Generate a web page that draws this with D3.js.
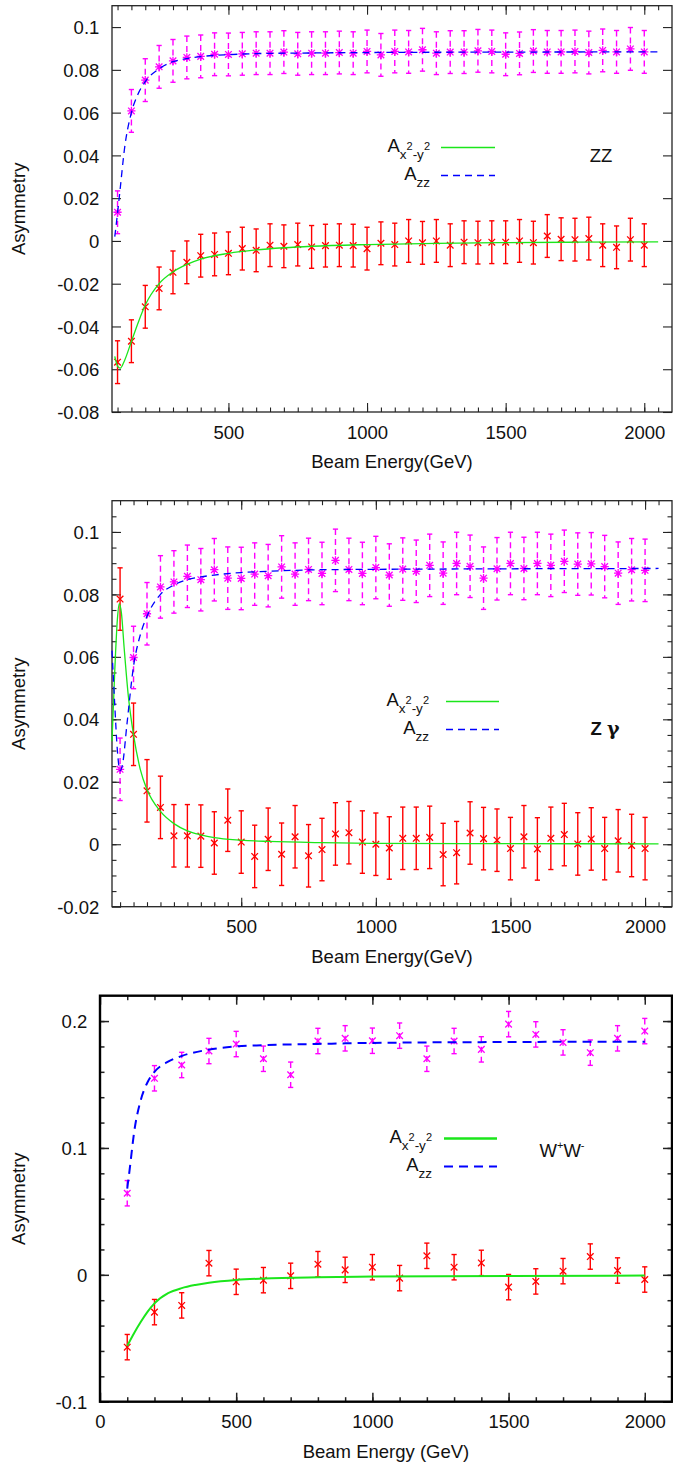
<!DOCTYPE html>
<html>
<head>
<meta charset="utf-8">
<script src="https://cdn.jsdelivr.net/npm/d3@7/dist/d3.min.js"></script>
<style>
  body { margin: 0; background: #fff; }
  svg { display: block; font-family: "Liberation Sans", Arial, sans-serif; }
</style>
</head>
<body>
<svg width="673" height="1464"></svg>
<script>
// ---------- ZZ ----------
const zzEnergy = [100,150,200,250,300,350,400,450,500,550,600,650,700,750,800,850,900,950,1000,
  1050,1100,1150,1200,1250,1300,1350,1400,1450,1500,1550,1600,1650,1700,1750,1800,1850,1900,1950,2000];
const zzAxx = [-0.0567,-0.0469,-0.0308,-0.0222,-0.0147,-0.0100,-0.0069,-0.0063,-0.0058,-0.0036,-0.0044,
  -0.0020,-0.0025,-0.0017,-0.0028,-0.0022,-0.0020,-0.0022,-0.0036,-0.0011,-0.0017,0.0000,-0.0009,0.0000,
  -0.0020,-0.0006,-0.0008,-0.0006,-0.0006,0.0000,-0.0008,0.0023,0.0008,0.0006,0.0011,-0.0020,-0.0030,0.0006,-0.0020];
const zzAzz = [0.0134,0.0608,0.0752,0.0814,0.0842,0.0858,0.0863,0.0873,0.0872,0.0875,0.0878,0.0878,0.0883,
  0.0875,0.0878,0.0878,0.0881,0.0878,0.0886,0.0870,0.0886,0.0884,0.0894,0.0878,0.0883,0.0883,0.0889,0.0886,
  0.0873,0.0877,0.0888,0.0884,0.0884,0.0886,0.0881,0.0891,0.0884,0.0898,0.0884];
const zzErr = 0.01;
const zzFitAxx = [[90,-0.054],[100,-0.0585],[110,-0.0595],[125,-0.056],[150,-0.047],[175,-0.038],[200,-0.030],
  [250,-0.020],[300,-0.0145],[350,-0.011],[400,-0.0085],[500,-0.0058],[600,-0.0042],[700,-0.0032],[800,-0.0025],
  [1000,-0.0017],[1250,-0.0011],[1500,-0.0008],[1750,-0.0006],[2050,-0.0004]];
const zzFitAzz = [[90,0.002],[100,0.013],[110,0.025],[125,0.043],[150,0.060],[175,0.069],[200,0.0745],
  [250,0.0805],[300,0.0838],[350,0.0853],[400,0.0862],[500,0.0871],[600,0.0876],[800,0.0879],[1000,0.0881],
  [1500,0.0883],[2050,0.0884]];

// ---------- Z gamma ----------
const zgEnergy = [50,100,150,200,250,300,350,400,450,500,550,600,650,700,750,800,850,900,950,1000,
  1050,1100,1150,1200,1250,1300,1350,1400,1450,1500,1550,1600,1650,1700,1750,1800,1850,1900,1950,2000];
const zgAxx = [0.0785,0.0352,0.0171,0.0118,0.0027,0.0027,0.0026,0.0004,0.0077,0.0007,-0.0039,0.0016,-0.0032,
  0.0024,-0.0037,-0.0017,0.0033,0.0037,0.0007,0.0000,-0.0012,0.0019,0.0019,0.0022,-0.0033,-0.0027,0.0036,
  0.0018,0.0013,-0.0014,0.0024,-0.0015,0.0019,0.0031,0.0001,0.0017,-0.0014,0.0011,-0.0004,-0.0014];
const zgAzz = [0.0240,0.0598,0.0738,0.0824,0.0840,0.0858,0.0847,0.0879,0.0852,0.0851,0.0865,0.0860,0.0888,
  0.0865,0.0880,0.0867,0.0909,0.0880,0.0867,0.0886,0.0862,0.0881,0.0874,0.0893,0.0868,0.0899,0.0890,0.0852,
  0.0882,0.0899,0.0883,0.0899,0.0893,0.0906,0.0897,0.0898,0.0889,0.0868,0.0879,0.0877];
const zgErr = 0.01;
const zgFitAxx = [[20,0.033],[30,0.055],[40,0.072],[47,0.077],[55,0.074],[65,0.063],[80,0.048],[100,0.035],
  [125,0.024],[150,0.0175],[200,0.0105],[250,0.0066],[300,0.0043],[350,0.003],[400,0.0021],[500,0.0013],
  [600,0.0009],[800,0.0005],[1000,0.0003],[1500,0.0002],[2050,0.0001]];
const zgFitAzz = [[20,0.062],[30,0.045],[40,0.030],[50,0.0235],[60,0.026],[75,0.038],[100,0.057],[125,0.067],
  [150,0.073],[200,0.080],[250,0.083],[300,0.0847],[350,0.0856],[400,0.0862],[500,0.087],[600,0.0874],
  [800,0.0879],[1200,0.0881],[2050,0.0883]];

// ---------- W+W- ----------
const wwEnergy = [100,200,300,400,500,600,700,800,900,1000,1100,1200,1300,1400,1500,1600,1700,1800,1900,2000];
const wwAxx = [-0.0570,-0.0294,-0.0241,0.0092,-0.0055,-0.0042,-0.0008,0.0084,0.0039,0.0060,-0.0026,0.0150,
  0.0060,0.0094,-0.0097,-0.0052,0.0029,0.0144,0.0034,-0.0037];
const wwAzz = [0.0643,0.1549,0.1654,0.1764,0.1819,0.1703,0.1577,0.1843,0.1864,0.1845,0.1885,0.1703,0.1843,
  0.1777,0.1976,0.1895,0.1832,0.1751,0.1864,0.1921];
const wwErr = 0.01;
const wwFitAxx = [[100,-0.056],[125,-0.046],[150,-0.037],[175,-0.029],[200,-0.0225],[250,-0.0145],[300,-0.0105],
  [350,-0.008],[400,-0.0062],[500,-0.004],[600,-0.0029],[800,-0.0019],[1000,-0.0014],[1500,-0.0009],[2000,-0.0006]];
const wwFitAzz = [[100,0.068],[110,0.085],[125,0.112],[150,0.138],[175,0.152],[200,0.160],[250,0.168],
  [300,0.1725],[400,0.1775],[500,0.180],[600,0.181],[800,0.182],[1000,0.1828],[1500,0.1835],[2000,0.1838]];

const zzYTicks = [-0.08,-0.06,-0.04,-0.02,0,0.02,0.04,0.06,0.08,0.1];
const zgYTicks = [-0.02,0,0.02,0.04,0.06,0.08,0.1];
const wwYTicks = [-0.1,0,0.1,0.2];
const xTicksTop = [500,1000,1500,2000];
const xTicksWW = [0,500,1000,1500,2000];

const svg = d3.select("svg");

const panels = [
  { top: 5.7, bottom: 412, left: 112, right: 672, xDomain: [80, 2100], yDomain: [-0.08, 0.11],
    yTicks: zzYTicks, yMinor: [], xTicks: xTicksTop, xMinor: d3.range(100, 2100, 50),
    energy: zzEnergy, axx: zzAxx, azz: zzAzz, err: zzErr, fitAxx: zzFitAxx, fitAzz: zzFitAzz,
    xlabel: "Beam Energy(GeV)", frameW: 1.3, lineW: 1.3, star: true,
    legendX: 430, legendY: 152, sampleX: [441, 495], tag: "ZZ", tagX: 601, tagY: 162 },
  { top: 500.7, bottom: 906.7, left: 112, right: 672, xDomain: [20, 2100], yDomain: [-0.02, 0.11],
    yTicks: zgYTicks, yMinor: d3.range(-0.015, 0.11, 0.005), xTicks: xTicksTop, xMinor: d3.range(50, 2100, 50),
    energy: zgEnergy, axx: zgAxx, azz: zgAzz, err: zgErr, fitAxx: zgFitAxx, fitAzz: zgFitAzz,
    xlabel: "Beam Energy(GeV)", frameW: 1.3, lineW: 1.3, star: true,
    legendX: 429, legendY: 706, sampleX: [446, 499], tag: "Zg", tagX: 605, tagY: 735 },
  { top: 995.7, bottom: 1401.7, left: 100, right: 672, xDomain: [0, 2100], yDomain: [-0.1, 0.22],
    yTicks: wwYTicks, yMinor: d3.range(-0.08, 0.22, 0.02), xTicks: xTicksWW, xMinor: d3.range(100, 2100, 100),
    energy: wwEnergy, axx: wwAxx, azz: wwAzz, err: wwErr, fitAxx: wwFitAxx, fitAzz: wwFitAzz,
    xlabel: "Beam Energy (GeV)", frameW: 2.4, lineW: 2, star: false,
    legendX: 432, legendY: 1143, sampleX: [444, 497], tag: "WW", tagX: 562, tagY: 1157 }
];

const RED = "#ff0000", MAG = "#ff00ff", GREEN = "#1be61b", BLUE = "#0000ff";

panels.forEach(drawPanel);

/////////////HELPERS//////////////////

function drawPanel(p) {
  const x = d3.scaleLinear().domain(p.xDomain).range([p.left, p.right]);
  const y = d3.scaleLinear().domain(p.yDomain).range([p.bottom, p.top]);
  const g = svg.append("g");
  const w = p.right - p.left, h = p.bottom - p.top;

  // ticks (inward, mirrored)
  const fmt = d => String(d);
  const tickAxis = (axis, vals, len, labels) => axis.tickValues(vals).tickSizeInner(-len)
      .tickSizeOuter(0).tickPadding(12.7).tickFormat(labels ? fmt : "");
  const addAxis = (axis, tx, ty) => g.append("g")
      .attr("transform", `translate(${tx},${ty})`)
      .call(axis)
      .call(s => s.select(".domain").remove())
      .call(s => s.selectAll("line").attr("stroke", "#222").attr("stroke-width", p.frameW > 2 ? 1.5 : 1.1))
      .call(s => s.selectAll("text").attr("font-size", 18.5).attr("fill", "#111")
          .attr("font-family", "Liberation Sans, Arial, sans-serif"));

  addAxis(tickAxis(d3.axisBottom(x), p.xMinor, 4.5, false), 0, p.bottom);
  addAxis(tickAxis(d3.axisTop(x), p.xMinor, 4.5, false), 0, p.top);
  addAxis(tickAxis(d3.axisLeft(y), p.yMinor, 4.5, false), p.left, 0);
  addAxis(tickAxis(d3.axisRight(y), p.yMinor, 4.5, false), p.right, 0);
  addAxis(tickAxis(d3.axisTop(x), p.xTicks, 9, false), 0, p.top);
  addAxis(tickAxis(d3.axisRight(y), p.yTicks, 9, false), p.right, 0);
  addAxis(tickAxis(d3.axisLeft(y), p.yTicks, 9, true), p.left, 0)
      .selectAll("text").attr("dy", "0.36em");
  addAxis(tickAxis(d3.axisBottom(x), p.xTicks, 9, true), 0, p.bottom)
      .selectAll("text").attr("dy", null).attr("y", 26.5);

  g.append("rect")
      .attr("x", p.left).attr("y", p.top).attr("width", w).attr("height", h)
      .attr("fill", "none").attr("stroke", p.frameW > 2 ? "#000" : "#222").attr("stroke-width", p.frameW);

  // axis titles
  g.append("text")
      .attr("x", (p.left + p.right) / 2).attr("y", p.bottom + 56)
      .attr("text-anchor", "middle").attr("font-size", 18.5).attr("fill", "#111")
      .text(p.xlabel);
  g.append("text")
      .attr("transform", `translate(25,${(p.top + p.bottom) / 2}) rotate(-90)`)
      .attr("text-anchor", "middle").attr("font-size", 18.5).attr("fill", "#111")
      .text("Asymmetry");

  // error bars and markers
  drawSeries(g, p, x, y, p.axx, RED, false, false);
  drawSeries(g, p, x, y, p.azz, MAG, true, p.star);

  // fitted curves
  const line = d3.line().x(d => x(d[0])).y(d => y(d[1])).curve(d3.curveMonotoneX);
  g.append("path").datum(p.fitAxx).attr("d", line)
      .attr("fill", "none").attr("stroke", GREEN).attr("stroke-width", p.lineW);
  g.append("path").datum(p.fitAzz).attr("d", line)
      .attr("fill", "none").attr("stroke", BLUE).attr("stroke-width", p.lineW)
      .attr("stroke-dasharray", p.lineW > 1.5 ? "9,6" : "7,5");

  drawLegend(g, p);
}

function drawSeries(g, p, x, y, values, color, dashed, star) {
  const pts = values.map((v, i) => ({ e: p.energy[i], v: v }));
  const s = g.append("g").attr("stroke", color).attr("fill", "none");
  const cap = 2.6;
  const bars = s.selectAll("g.bar").data(pts).enter().append("g").attr("class", "bar");
  bars.append("line")
      .attr("x1", d => x(d.e)).attr("x2", d => x(d.e))
      .attr("y1", d => y(d.v + p.err)).attr("y2", d => y(d.v - p.err))
      .attr("stroke-width", 1.4)
      .attr("stroke-dasharray", dashed ? "6,4" : null);
  [1, -1].forEach(sgn => {
    bars.append("line")
        .attr("x1", d => x(d.e) - cap).attr("x2", d => x(d.e) + cap)
        .attr("y1", d => y(d.v + sgn * p.err)).attr("y2", d => y(d.v + sgn * p.err))
        .attr("stroke-width", 1.4);
  });
  const m = 3.3;
  bars.append("path")
      .attr("d", d => {
        const cx = x(d.e), cy = y(d.v);
        let path = `M${cx - m},${cy - m}L${cx + m},${cy + m}M${cx - m},${cy + m}L${cx + m},${cy - m}`;
        if (star) path += `M${cx - m - 0.8},${cy}L${cx + m + 0.8},${cy}M${cx},${cy - m - 0.8}L${cx},${cy + m + 0.8}`;
        return path;
      })
      .attr("stroke-width", 1.3);
}

function drawLegend(g, p) {
  const fs = 18.5, sub = 13.5, sup = 11;
  const t1 = g.append("text").attr("x", p.legendX).attr("y", p.legendY)
      .attr("text-anchor", "end").attr("font-size", fs).attr("fill", "#111");
  t1.append("tspan").text("A");
  t1.append("tspan").attr("font-size", sub).attr("dy", 7).text("x");
  t1.append("tspan").attr("font-size", sup).attr("dy", -9).text("2");
  t1.append("tspan").attr("font-size", sub).attr("dy", 9).text("-y");
  t1.append("tspan").attr("font-size", sup).attr("dy", -9).text("2");

  const t2 = g.append("text").attr("x", p.legendX).attr("y", p.legendY + 28)
      .attr("text-anchor", "end").attr("font-size", fs).attr("fill", "#111");
  t2.append("tspan").text("A");
  t2.append("tspan").attr("font-size", sub).attr("dy", 7).text("zz");

  g.append("line")
      .attr("x1", p.sampleX[0]).attr("x2", p.sampleX[1])
      .attr("y1", p.legendY - 4.5).attr("y2", p.legendY - 4.5)
      .attr("stroke", GREEN).attr("stroke-width", p.lineW + 0.3);
  g.append("line")
      .attr("x1", p.sampleX[0]).attr("x2", p.sampleX[1])
      .attr("y1", p.legendY + 23.5).attr("y2", p.legendY + 23.5)
      .attr("stroke", BLUE).attr("stroke-width", p.lineW)
      .attr("stroke-dasharray", p.lineW > 1.5 ? "9,6" : "7,5");

  const tag = g.append("text").attr("x", p.tagX).attr("y", p.tagY)
      .attr("text-anchor", "middle").attr("font-size", fs).attr("fill", "#111");
  if (p.tag === "WW") {
    tag.append("tspan").text("W");
    tag.append("tspan").attr("font-size", sup).attr("dy", -8).text("+");
    tag.append("tspan").attr("dy", 8).text("W");
    tag.append("tspan").attr("font-size", sup).attr("dy", -8).text("-");
  } else if (p.tag === "Zg") {
    tag.attr("font-weight", "bold");
    tag.append("tspan").text("Z ");
    tag.append("tspan").attr("font-family", "DejaVu Serif, serif").attr("font-size", 19).text("γ");
  } else {
    tag.text(p.tag);
  }
}
</script>
</body>
</html>
